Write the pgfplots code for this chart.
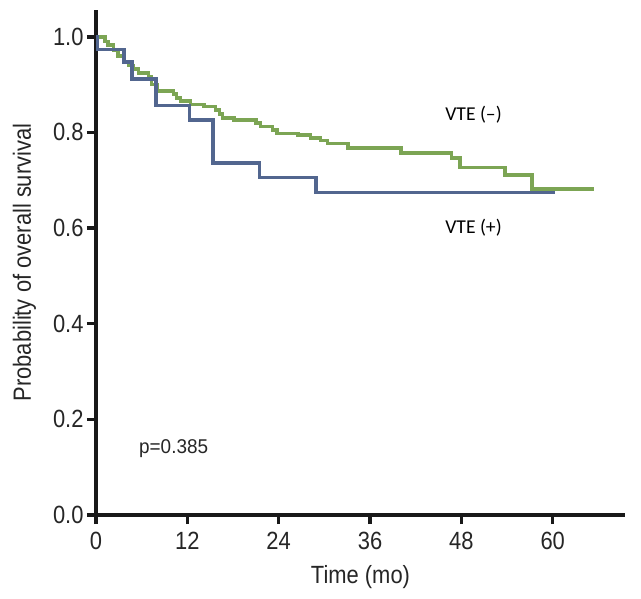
\documentclass[border=0pt]{standalone}
\usepackage{fontspec}
\setmainfont{Liberation Sans}[FakeStretch=0.88]
\newfontfamily\calfont{Carlito}
\usepackage{pgfplots}
\pgfplotsset{compat=1.18}
\definecolor{vteneg}{RGB}{124,165,84}
\definecolor{vtepos}{RGB}{82,102,143}
\begin{document}
\begin{tikzpicture}
\path[use as bounding box] (-96bp,-84bp) rectangle (545bp,515bp);
\begin{axis}[
  scale only axis, width=529bp, height=505bp,
  xmin=0, xmax=69.5, ymin=0, ymax=1.056,
  axis x line=bottom, axis y line=left,
  axis line style={line width=4bp,-,black!90},
  tick style={line width=3.5bp,black!90},
  major tick length=9bp,
  tick align=outside,
  xtick={0,12,24,36,48,60},
  ytick={0,0.2,0.4,0.6,0.8,1.0},
  yticklabel style={/pgf/number format/.cd, fixed, fixed zerofill, precision=1},
  /pgf/number format/assume math mode=true,
  tick label style={font=\fontsize{25}{30}\selectfont, text=black!85},
  xticklabel style={yshift=-5bp},
  label style={font=\fontsize{25}{30}\selectfont, text=black!85},
  xlabel={Time (mo)},
  ylabel={Probability of overall survival},
  xlabel shift=8bp,
  ylabel shift=10bp,
  clip=false,
]
% VTE (-)
\addplot[const plot, vteneg, line width=3.6bp] coordinates {
 (0,1.0) (1.2,0.99) (1.6,0.983) (2.3,0.972) (2.9,0.96) (3.6,0.948) (4.3,0.94)
 (4.9,0.932) (5.6,0.924) (6.9,0.917) (7.3,0.900) (8.0,0.886) (10.2,0.880)
 (10.6,0.872) (11.1,0.866) (12.4,0.858) (14.2,0.854) (15.7,0.847) (16.2,0.838)
 (16.6,0.830) (18.1,0.826) (21.0,0.820) (21.6,0.812) (23.2,0.805) (23.8,0.798)
 (26.5,0.795) (28.2,0.788) (29.5,0.783) (30.4,0.777) (33.1,0.767) (40.1,0.757)
 (46.7,0.747) (47.8,0.727) (53.7,0.711) (57.3,0.682) (65.4,0.682)
};
% VTE (+)
\addplot[const plot, vtepos, line width=3.6bp] coordinates {
 (0,1.0) (0.2,0.973) (3.7,0.947) (4.7,0.912) (7.9,0.856) (12.3,0.826)
 (15.4,0.736) (21.5,0.706) (28.9,0.674) (60.3,0.674)
};
\node[font=\calfont\fontsize{19.7}{22}\selectfont] at (axis cs:49.6,0.837) {VTE (–)};
\node[font=\calfont\fontsize{19.7}{22}\selectfont] at (axis cs:49.6,0.600) {VTE (+)};
\node[font=\fontsize{20}{24}\selectfont\addfontfeatures{FakeStretch=0.95}, text=black!85] at (axis cs:10.2,0.138) {p=0.385};
\end{axis}
\end{tikzpicture}
\end{document}
